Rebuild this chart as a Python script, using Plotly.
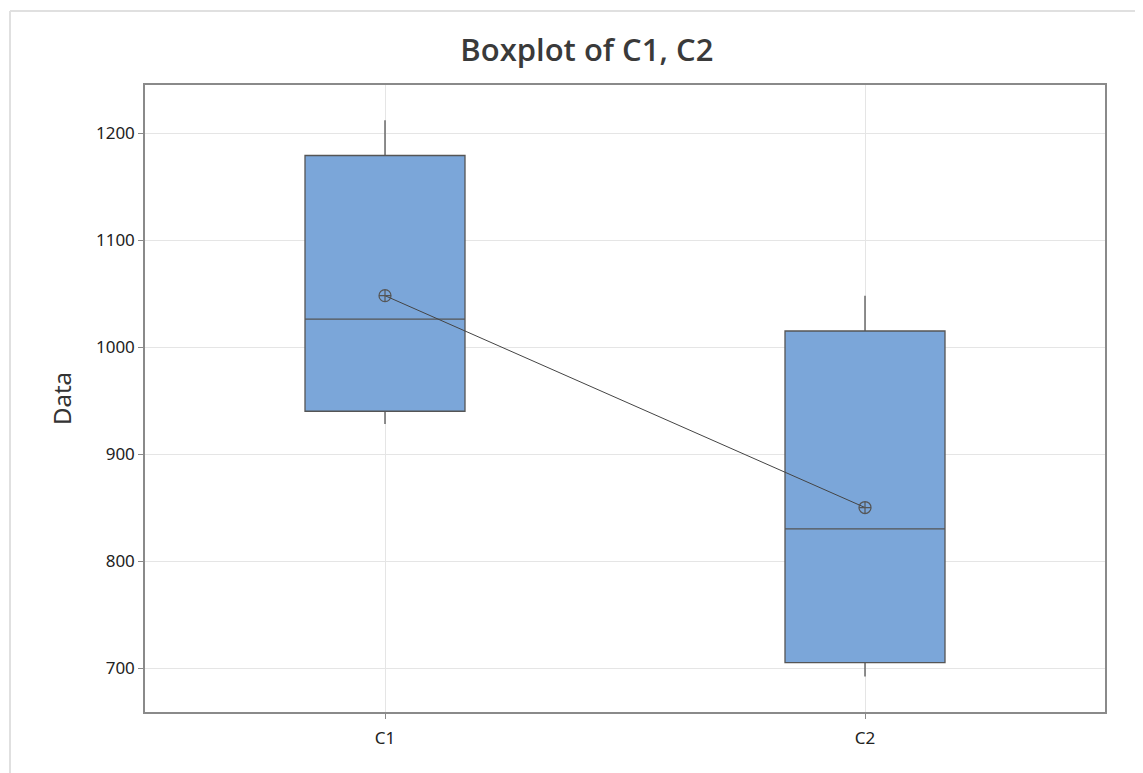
import plotly.graph_objects as go

categories = ["C1", "C2"]
lower_whisker = [928, 692]
q1 = [940, 705]
median = [1026, 830]
q3 = [1179, 1015]
upper_whisker = [1212, 1048]
means = [1048, 850]
y_ticks = [700, 800, 900, 1000, 1100, 1200]

fig = go.Figure()
fig.add_trace(go.Box(
    x=categories, q1=q1, median=median, q3=q3,
    lowerfence=lower_whisker, upperfence=upper_whisker,
    fillcolor="#7BA6D9", line=dict(color="#555555", width=1.3),
    whiskerwidth=0, width=1/3, boxpoints=False, showlegend=False,
    hoverinfo="y",
))
fig.add_trace(go.Scatter(
    x=categories, y=means, mode="lines+markers",
    line=dict(color="#444444", width=1),
    marker=dict(symbol="circle-cross-open", size=12, color="#555555", line=dict(width=1.2)),
    showlegend=False,
))

axis_line = "#8a8a8a"
fig.update_layout(
    width=1135, height=765,
    margin=dict(l=137, r=38, t=77, b=61),
    paper_bgcolor="white", plot_bgcolor="white",
    font=dict(family="Noto Sans, Open Sans, sans-serif", color="#333333"),
    title=dict(text="Boxplot of C1, C2", x=0.51, xanchor="center", y=0.945, yanchor="middle",
               font=dict(size=31, color="#3a3a3a", family="Open Sans, Noto Sans, sans-serif", weight=600)),
    xaxis=dict(type="category", range=[-0.5, 1.5], showgrid=True, gridcolor="#e5e5e5", gridwidth=1,
               showline=True, linecolor=axis_line, linewidth=1.5, mirror=True,
               ticks="outside", ticklen=5, tickcolor=axis_line, ticklabelstandoff=5,
               tickfont=dict(size=17, color="#222222"), zeroline=False),
    yaxis=dict(range=[658.9, 1244.9], tickvals=y_ticks, showgrid=True, gridcolor="#e5e5e5", gridwidth=1,
               showline=True, linecolor=axis_line, linewidth=1.5, mirror=True,
               ticks="outside", ticklen=5, tickcolor=axis_line,
               tickfont=dict(size=17, color="#222222"), zeroline=False,
               title=dict(text="Data", font=dict(size=24, color="#333333"), standoff=18)),
    shapes=[
        dict(type="line", xref="paper", yref="paper", x0=-135/960, x1=1.2, y0=1 + 74/627, y1=1 + 74/627,
             line=dict(color="#e0e0e0", width=2)),
        dict(type="line", xref="paper", yref="paper", x0=-135/960, x1=-135/960, y0=-1, y1=1 + 74/627,
             line=dict(color="#e0e0e0", width=2)),
    ],
)

fig.write_html("out.html")
